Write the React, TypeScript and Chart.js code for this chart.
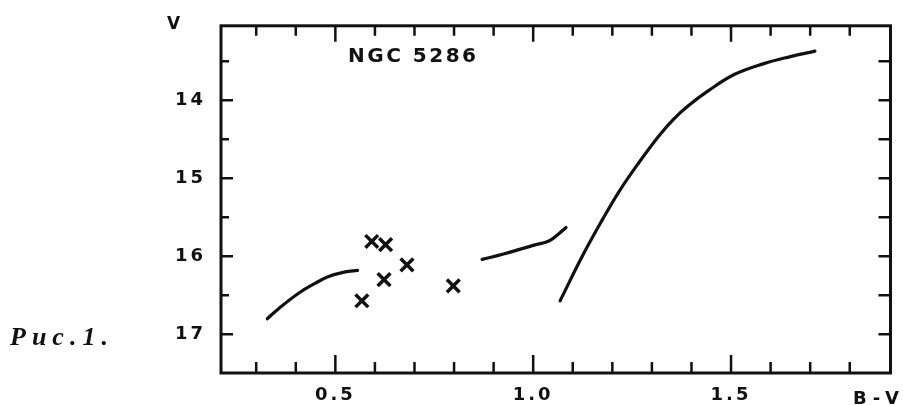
import React, { useEffect, useRef } from 'react';
import { Chart, registerables } from 'chart.js';

Chart.register(...registerables);

// Left branch (curve) : B-V and V
const branch1BV = [0.328, 0.358, 0.408, 0.45, 0.483, 0.525, 0.556];
const branch1V = [16.8, 16.665, 16.47, 16.343, 16.26, 16.2, 16.18];

// Middle branch
const branch2BV = [0.871, 0.925, 1.0, 1.041, 1.067, 1.083];
const branch2V = [16.04, 15.97, 15.86, 15.8, 15.7, 15.63];

// Giant branch
const branch3BV = [1.068, 1.125, 1.175, 1.217, 1.267, 1.317, 1.355, 1.392, 1.442, 1.508, 1.583, 1.65, 1.712];
const branch3V = [16.57, 15.99, 15.53, 15.17, 14.8, 14.46, 14.24, 14.07, 13.88, 13.67, 13.53, 13.44, 13.37];

// Individual stars (crosses)
const starsBV = [0.592, 0.627, 0.681, 0.623, 0.567, 0.798];
const starsV = [15.81, 15.85, 16.11, 16.3, 16.57, 16.38];

// Axes
const xLabeledTicks = [0.5, 1.0, 1.5];
const xTickValues = [0.3, 0.4, 0.5, 0.6, 0.7, 0.8, 0.9, 1.0, 1.1, 1.2, 1.3, 1.4, 1.5, 1.6, 1.7, 1.8];
const yLabeledTicks = [14, 15, 16, 17];
const yTickValues = [13.5, 14, 14.5, 15, 15.5, 16, 16.5, 17];

const titleText = 'NGC 5286';
const yAxisTitle = 'V';
const xAxisTitle = 'B-V';
const captionText = 'Рис.1.';

const INK = '#111111';
const SANS = '"DejaVu Sans", "Liberation Sans", sans-serif';

const toPoints = (xs: number[], ys: number[]) => xs.map((x, i) => ({ x, y: ys[i] }));

const framePlugin = {
  id: 'framePlugin',
  beforeDraw(chart: any) {
    chart.ctx.letterSpacing = '3px';
  },
  afterDraw(chart: any) {
    const { ctx, chartArea: a } = chart;
    const x = chart.scales.x;
    const y = chart.scales.y;
    ctx.save();
    ctx.letterSpacing = '0px';
    ctx.strokeStyle = INK;
    ctx.lineWidth = 3;
    ctx.strokeRect(a.left, a.top, a.right - a.left, a.bottom - a.top);
    ctx.lineWidth = 2.5;
    ctx.beginPath();
    for (const v of xTickValues) {
      const px = x.getPixelForValue(v);
      const major = xLabeledTicks.includes(v);
      ctx.moveTo(px, a.bottom);
      ctx.lineTo(px, a.bottom - (major ? 18 : 11));
      ctx.moveTo(px, a.top);
      ctx.lineTo(px, a.top + (major ? 16 : 10));
    }
    for (const v of yTickValues) {
      const py = y.getPixelForValue(v);
      const major = yLabeledTicks.includes(v);
      ctx.moveTo(a.left, py);
      ctx.lineTo(a.left + (major ? 12 : 8), py);
      ctx.moveTo(a.right, py);
      ctx.lineTo(a.right - 12, py);
    }
    ctx.stroke();

    ctx.fillStyle = INK;
    ctx.textAlign = 'left';
    ctx.textBaseline = 'alphabetic';

    ctx.font = `bold 17px ${SANS}`;
    ctx.letterSpacing = '0px';
    ctx.fillText(yAxisTitle, 167, 29);

    ctx.font = `bold 20px ${SANS}`;
    ctx.letterSpacing = '2.5px';
    ctx.fillText(titleText, 348, 62);

    ctx.font = `bold 18px ${SANS}`;
    ctx.letterSpacing = '6px';
    ctx.fillText(xAxisTitle, 853, 404);

    ctx.font = 'italic bold 26px "Liberation Serif", "DejaVu Serif", serif';
    ctx.letterSpacing = '6px';
    ctx.fillText(captionText, 10, 345);

    ctx.restore();
  },
};

export default function App() {
  const canvasRef = useRef<HTMLCanvasElement | null>(null);

  useEffect(() => {
    if (!canvasRef.current) return;
    const lineDs = (xs: number[], ys: number[]) => ({
      type: 'line' as const,
      data: toPoints(xs, ys),
      showLine: true,
      borderColor: INK,
      borderWidth: 3.2,
      pointRadius: 0,
      tension: 0.4,
      fill: false,
      borderCapStyle: 'round' as const,
      borderJoinStyle: 'round' as const,
    });
    const chart = new Chart(canvasRef.current, {
      type: 'scatter',
      data: {
        datasets: [
          lineDs(branch1BV, branch1V),
          lineDs(branch2BV, branch2V),
          lineDs(branch3BV, branch3V),
          {
            type: 'scatter',
            data: toPoints(starsBV, starsV),
            pointStyle: 'crossRot',
            pointRadius: 9,
            pointBorderWidth: 3.5,
            borderColor: INK,
            backgroundColor: INK,
          } as any,
        ],
      },
      options: {
        animation: false,
        responsive: false,
        devicePixelRatio: 1,
        layout: { padding: { top: 14, right: 5, left: 0, bottom: 0 } },
        plugins: { legend: { display: false }, tooltip: { enabled: false } },
        scales: {
          x: {
            type: 'linear',
            min: 0.211,
            max: 1.903,
            afterBuildTicks: (scale: any) => {
              scale.ticks = xLabeledTicks.map((v) => ({ value: v }));
            },
            afterFit: (scale: any) => {
              scale.height = 32;
            },
            grid: { display: true, drawOnChartArea: false, drawTicks: false },
            border: { display: false },
            ticks: {
              color: INK,
              padding: 12,
              maxRotation: 0,
              autoSkip: false,
              font: { family: SANS, size: 18, weight: 'bold' },
              callback: (v: any) => Number(v).toFixed(1),
            },
          },
          y: {
            type: 'linear',
            reverse: true,
            min: 13.045,
            max: 17.496,
            afterBuildTicks: (scale: any) => {
              scale.ticks = yLabeledTicks.map((v) => ({ value: v }));
            },
            afterFit: (scale: any) => {
              scale.width = 221;
            },
            grid: { display: true, drawOnChartArea: false, drawTicks: false },
            border: { display: false },
            ticks: {
              color: INK,
              padding: 15,
              autoSkip: false,
              font: { family: SANS, size: 18, weight: 'bold' },
              callback: (v: any) => String(v),
            },
          },
        },
      },
      plugins: [framePlugin],
    });
    return () => chart.destroy();
  }, []);

  return (
    <canvas
      ref={canvasRef}
      width={903}
      height={405}
      style={{ position: 'fixed', left: 0, top: 0, width: 903, height: 405, background: '#fff' }}
    />
  );
}
